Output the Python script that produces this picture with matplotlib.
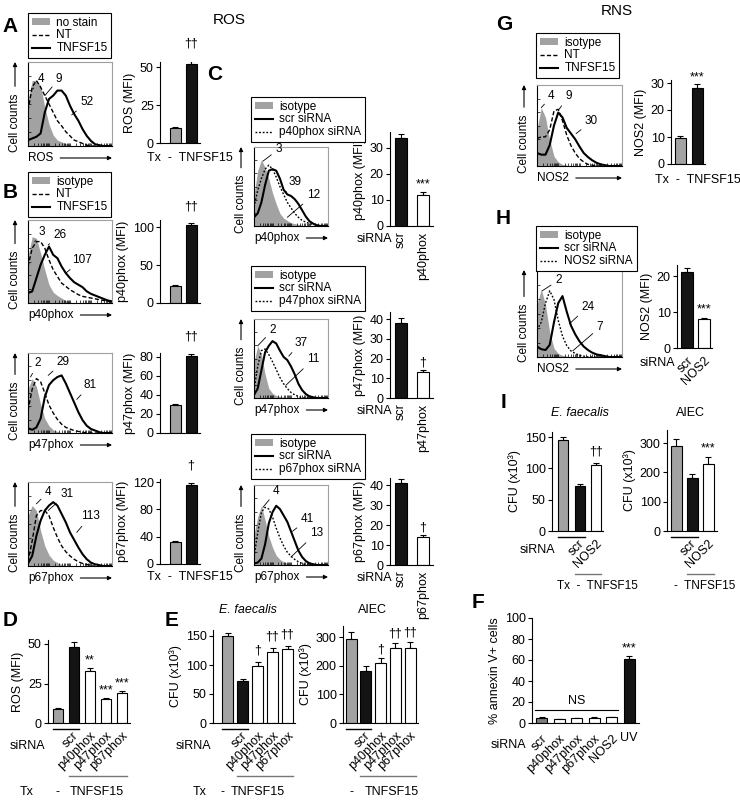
import numpy as np
import matplotlib
matplotlib.use("Agg")
import matplotlib.pyplot as plt
import matplotlib.transforms as mtrans
from matplotlib.patches import Patch
from matplotlib.lines import Line2D

plt.rcParams["font.family"] = ["Liberation Sans", "DejaVu Sans"]
plt.rcParams["font.size"] = 8.5
plt.rcParams["axes.linewidth"] = 0.8

# histogram bins along the (log) fluorescence axis, 0..1 across each plot
BINS = np.linspace(0, 1, 21)

# ---- flow histograms: counts as a fraction of the plot height ----
A_stain = [0.54, 0.78, 0.78, 0.72, 0.46, 0.26, 0.13, 0.07, 0.05, 0.03, 0.01, 0, 0, 0, 0, 0, 0, 0, 0, 0, 0]
A_nt = [0.42, 0.70, 0.78, 0.70, 0.60, 0.50, 0.40, 0.30, 0.24, 0.17, 0.12, 0.07, 0.05, 0.03, 0.01, 0, 0, 0, 0, 0, 0]
A_tx = [0.07, 0.09, 0.11, 0.15, 0.40, 0.56, 0.60, 0.66, 0.66, 0.60, 0.48, 0.38, 0.30, 0.20, 0.12, 0.06, 0.02, 0.01, 0, 0, 0]

B1_iso = [0.56, 0.80, 0.78, 0.60, 0.40, 0.22, 0.13, 0.09, 0.06, 0.03, 0.01, 0, 0, 0, 0, 0, 0, 0, 0, 0, 0]
B1_nt = [0.44, 0.66, 0.74, 0.74, 0.66, 0.52, 0.40, 0.32, 0.24, 0.20, 0.16, 0.13, 0.10, 0.08, 0.07, 0.06, 0.05, 0.04, 0.03, 0.02, 0.01]
B1_tx = [0.12, 0.14, 0.30, 0.46, 0.58, 0.68, 0.58, 0.54, 0.44, 0.36, 0.30, 0.25, 0.22, 0.19, 0.14, 0.11, 0.09, 0.07, 0.05, 0.03, 0.02]

B2_iso = [0.55, 0.68, 0.58, 0.36, 0.18, 0.09, 0.04, 0.02, 0, 0, 0, 0, 0, 0, 0, 0, 0, 0, 0, 0, 0]
B2_nt = [0.28, 0.55, 0.68, 0.64, 0.50, 0.35, 0.25, 0.17, 0.11, 0.07, 0.05, 0.03, 0.02, 0.01, 0, 0, 0, 0, 0, 0, 0]
B2_tx = [0.06, 0.04, 0.07, 0.18, 0.45, 0.60, 0.66, 0.70, 0.72, 0.62, 0.50, 0.38, 0.26, 0.16, 0.09, 0.05, 0.03, 0.01, 0, 0, 0]

B3_iso = [0.60, 0.72, 0.66, 0.42, 0.24, 0.13, 0.07, 0.04, 0.02, 0, 0, 0, 0, 0, 0, 0, 0, 0, 0, 0, 0]
B3_nt = [0.05, 0.30, 0.60, 0.66, 0.66, 0.60, 0.46, 0.34, 0.24, 0.17, 0.12, 0.08, 0.05, 0.03, 0.02, 0, 0, 0, 0, 0, 0]
B3_tx = [0.03, 0.12, 0.36, 0.54, 0.66, 0.72, 0.76, 0.72, 0.62, 0.52, 0.40, 0.31, 0.22, 0.14, 0.08, 0.04, 0.02, 0.01, 0, 0, 0]

C1_iso = [0.40, 0.70, 0.84, 0.74, 0.60, 0.42, 0.28, 0.16, 0.10, 0.07, 0.04, 0.03, 0.02, 0.01, 0, 0, 0, 0, 0, 0, 0]
C1_kd = [0.24, 0.45, 0.60, 0.72, 0.77, 0.72, 0.62, 0.50, 0.40, 0.30, 0.23, 0.16, 0.11, 0.07, 0.05, 0.03, 0.02, 0.01, 0, 0, 0]
C1_scr = [0.11, 0.16, 0.30, 0.52, 0.70, 0.72, 0.70, 0.60, 0.46, 0.40, 0.38, 0.34, 0.28, 0.20, 0.12, 0.06, 0.03, 0.01, 0, 0, 0]

C2_iso = [0.45, 0.66, 0.55, 0.30, 0.12, 0.06, 0.03, 0.02, 0.01, 0, 0, 0, 0, 0, 0, 0, 0, 0, 0, 0, 0]
C2_kd = [0.10, 0.40, 0.60, 0.62, 0.55, 0.46, 0.36, 0.26, 0.18, 0.12, 0.07, 0.04, 0.02, 0, 0, 0, 0, 0, 0, 0, 0]
C2_scr = [0.04, 0.12, 0.35, 0.58, 0.66, 0.72, 0.69, 0.60, 0.52, 0.48, 0.40, 0.30, 0.18, 0.10, 0.05, 0.02, 0.01, 0, 0, 0, 0]

C3_iso = [0.38, 0.60, 0.74, 0.56, 0.36, 0.22, 0.12, 0.07, 0.04, 0.02, 0.01, 0, 0, 0, 0, 0, 0, 0, 0, 0, 0]
C3_kd = [0.10, 0.40, 0.66, 0.72, 0.70, 0.60, 0.46, 0.34, 0.24, 0.16, 0.11, 0.07, 0.04, 0.02, 0, 0, 0, 0, 0, 0, 0]
C3_scr = [0.02, 0.03, 0.08, 0.26, 0.52, 0.66, 0.74, 0.70, 0.62, 0.54, 0.42, 0.30, 0.18, 0.10, 0.05, 0.02, 0.01, 0, 0, 0, 0]

G_iso = [0.45, 0.72, 0.60, 0.32, 0.12, 0.05, 0.02, 0.01, 0, 0, 0, 0, 0, 0, 0, 0, 0, 0, 0, 0, 0]
G_nt = [0.34, 0.36, 0.36, 0.45, 0.68, 0.70, 0.56, 0.38, 0.25, 0.16, 0.09, 0.05, 0.02, 0.01, 0, 0, 0, 0, 0, 0, 0]
G_tx = [0.16, 0.14, 0.14, 0.26, 0.50, 0.66, 0.60, 0.47, 0.40, 0.33, 0.24, 0.16, 0.11, 0.07, 0.04, 0.02, 0.01, 0, 0, 0, 0]

H_iso = [0.60, 0.78, 0.60, 0.28, 0.10, 0.04, 0.02, 0.01, 0, 0, 0, 0, 0, 0, 0, 0, 0, 0, 0, 0, 0]
H_kd = [0.31, 0.40, 0.62, 0.76, 0.66, 0.42, 0.24, 0.13, 0.07, 0.04, 0.02, 0.01, 0, 0, 0, 0, 0, 0, 0, 0, 0]
H_scr = [0.12, 0.09, 0.08, 0.14, 0.40, 0.62, 0.70, 0.52, 0.36, 0.26, 0.18, 0.12, 0.08, 0.05, 0.03, 0.02, 0.01, 0, 0, 0, 0]

# MFI numbers written on the histograms
A_mfi = ["4", "9", "52"]
B1_mfi = ["3", "26", "107"]
B2_mfi = ["2", "29", "81"]
B3_mfi = ["4", "31", "113"]
C1_mfi = ["3", "39", "12"]
C2_mfi = ["2", "37", "11"]
C3_mfi = ["4", "41", "13"]
G_mfi = ["4", "9", "30"]
H_mfi = ["2", "24", "7"]

# ---- bar data (mean, sem, significance) ----
A_val, A_err, A_sig = [10, 52], [0.8, 2], ["", "††"]
B1_val, B1_err, B1_sig = [22, 102], [1.5, 3], ["", "††"]
B2_val, B2_err, B2_sig = [29, 81], [1.5, 2.5], ["", "††"]
B3_val, B3_err, B3_sig = [32, 115], [2, 4], ["", "†"]
C1_val, C1_err, C1_sig = [34, 12], [1.5, 1], ["", "***"]
C2_val, C2_err, C2_sig = [38, 13], [2.5, 1], ["", "†"]
C3_val, C3_err, C3_sig = [41, 14], [2, 1.2], ["", "†"]
G_val, G_err, G_sig = [9.5, 28], [0.7, 1.5], ["", "***"]
H_val, H_err, H_sig = [21, 8], [1.2, 0.4], ["", "***"]
D_val, D_err, D_sig = [9, 48, 33, 15, 19], [0.5, 3, 2, 1, 1.2], ["", "", "**", "***", "***"]
E1_val, E1_err, E1_sig = [150, 72, 99, 123, 127], [6, 4, 6, 6, 5], ["", "", "†", "††", "††"]
E2_val, E2_err, E2_sig = [292, 183, 210, 260, 262], [25, 17, 17, 20, 22], ["", "", "†", "††", "††"]
F_val, F_err, F_sig = [5, 4, 4.5, 5, 5.5, 61], [0.3, 0.2, 0.3, 0.3, 0.3, 3], ["", "", "", "", "", "***"]
I1_val, I1_err, I1_sig = [145, 72, 105], [5, 3, 4], ["", "", "††"]
I2_val, I2_err, I2_sig = [290, 180, 230], [25, 15, 22], ["", "", "***"]

phox = ["p40phox", "p47phox", "p67phox"]
F_sirna = ["scr", "p40phox", "p47phox", "p67phox", "NOS2"]

W, H = 740, 802
GREY = "#a2a2a2"
BLACK = "#141414"
DASH = (0, (3.0, 1.6))
DOT = (0, (1.3, 1.3))
FS = 9

fig = plt.figure(figsize=(W / 100, H / 100), dpi=100)


def put(x, y, s, **kw):
    kw.setdefault("ha", "center")
    kw.setdefault("va", "center")
    kw.setdefault("fontsize", FS)
    fig.text(x / W, 1 - y / H, s, **kw)


def hist(box, grey, thin, thick, thin_ls, xlab, mfi, spots):
    x0, y0, x1, y1 = box
    w, h = x1 - x0, y1 - y0
    ax = fig.add_axes([x0 / W, 1 - y1 / H, w / W, h / H])
    ax.fill_between(BINS, grey, color=GREY, lw=0)
    ax.plot(BINS, thin, color="k", lw=1.0, ls=thin_ls)
    ax.plot(BINS, thick, color="k", lw=1.5)
    ax.set_xlim(0, 1)
    ax.set_ylim(0, 1)
    ax.set_xticks([(d + np.log10(k)) / 4 for d in range(4) for k in range(1, 10)] + [1])
    ax.set_yticks(np.linspace(0, 1, 7))
    ax.tick_params(direction="in", length=2, width=0.5, labelbottom=False, labelleft=False)
    for s in ("top", "right"):
        ax.spines[s].set_color("#a0a0a0")
    arrow = dict(arrowstyle="-|>", lw=0.8, color="k", mutation_scale=6, shrinkA=3, shrinkB=0)
    ax.annotate("Cell counts", xy=(-13 / w, 1.0), xytext=(-13 / w, 0.28), xycoords="axes fraction",
                rotation=90, ha="center", va="center", fontsize=8.5, arrowprops=arrow)
    ax.annotate(xlab, xy=(1.0, -12 / h), xytext=(0, -12 / h), xycoords="axes fraction",
                ha="left", va="center", fontsize=8.5, arrowprops=arrow)
    for s, (tx, ty, px, py) in zip(mfi, spots):
        ax.annotate(s, xy=(px, py), xytext=(tx, ty), xycoords="axes fraction", ha="center", va="center",
                    fontsize=8.5, arrowprops=dict(arrowstyle="-", lw=0.6, color="k", shrinkA=1, shrinkB=0))
    return ax


def legend(x, y, labels, styles):
    hs = [Patch(facecolor=GREY, edgecolor="none")]
    hs += [Line2D([], [], color="k", ls=ls, lw=lw) for ls, lw in styles]
    lg = fig.legend(hs, labels, loc="upper left", bbox_to_anchor=(x / W, 1 - y / H), fancybox=False,
                    edgecolor="k", framealpha=1, fontsize=8.5, handlelength=1.6, handleheight=0.55,
                    handletextpad=0.5, borderpad=0.3, labelspacing=0.08, borderaxespad=0)
    lg.get_frame().set_linewidth(0.8)


def bars(geo, vals, errs, colors, yticks, ylabel, marks, mdy=1):
    spine, c0, step, right, top, bot, tv, tp, wpx = geo
    scale = (bot - tp) / tv
    ax = fig.add_axes([spine / W, 1 - bot / H, (right - spine) / W, (bot - top) / H])
    x = np.arange(len(vals))
    bw = wpx / step
    ax.errorbar(x, vals, yerr=[np.zeros(len(vals)), errs], fmt="none", ecolor="k",
                elinewidth=0.8, capsize=2.5, capthick=0.8, zorder=1)
    ax.bar(x, vals, width=bw, color=colors, edgecolor="k", lw=0.8, zorder=2)
    ax.set_xlim((spine - c0) / step, (right - c0) / step)
    ax.set_ylim(0, (bot - top) / scale)
    ax.set_yticks(yticks)
    ax.set_xticks([])
    ax.spines[["top", "right"]].set_visible(False)
    ax.tick_params(axis="y", length=3, width=0.8, pad=1.5, labelsize=FS)
    ax.set_ylabel(ylabel, fontsize=FS, labelpad=3)
    for i, (v, e, m) in enumerate(zip(vals, errs, marks)):
        if m:
            ax.annotate(m, (i, v + e), xytext=(0, mdy), textcoords="offset points",
                        ha="center", va="bottom", fontsize=FS, annotation_clip=False)
    ax.geo = (top, bot, bw)
    return ax


def cats(ax, pos, labels, rot=45, pad=5):
    ax.set_xticks(pos, labels, rotation=rot, ha="right", va="top" if rot == 45 else "center",
                  rotation_mode="anchor", fontsize=FS)
    ax.tick_params(axis="x", length=0, pad=pad)


def bracket(ax, i, j, ypx, color):
    top, bot, bw = ax.geo
    tr = mtrans.blended_transform_factory(ax.transData, ax.transAxes)
    yf = (bot - ypx) / (bot - top)
    ax.plot([i - bw / 2, j + bw / 2], [yf, yf], transform=tr, color=color, lw=1.0, clip_on=False)


NT_STY = [(DASH, 1.0), ("-", 1.5)]
KD_STY = [("-", 1.5), (DOT, 1.0)]

# ---------------- titles and panel letters ----------------
put(229, 20, "ROS", fontsize=11)
put(617, 11, "RNS", fontsize=11)
for s, x, y in [("A", 10, 26), ("B", 10, 193), ("C", 215, 75), ("D", 10, 620), ("E", 172, 620),
                ("F", 478, 603), ("G", 504, 25), ("H", 503, 218), ("I", 504, 402)]:
    put(x, y, s, fontsize=15, fontweight="bold")

# ---------------- A / B ----------------
legend(28, 13, ["no stain", "NT", "TNFSF15"], NT_STY)
hist((28, 62, 112, 146), A_stain, A_nt, A_tx, DASH, "ROS", A_mfi,
     [(0.15, 0.80, 0.06, 0.68), (0.37, 0.80, 0.2, 0.6), (0.70, 0.52, 0.52, 0.37)])
bars((160, 175, 16, 200, 62, 143, 50, 67, 11), A_val, A_err, [GREY, BLACK], [0, 25, 50],
     "ROS (MFI)", A_sig, mdy=8)
put(147, 158, "Tx  -  TNFSF15", ha="left")

legend(28, 172, ["isotype", "NT", "TNFSF15"], NT_STY)
hist((28, 220, 112, 303), B1_iso, B1_nt, B1_tx, DASH, "p40phox", B1_mfi,
     [(0.17, 0.86, 0.08, 0.74), (0.38, 0.82, 0.24, 0.70), (0.64, 0.52, 0.45, 0.36)])
bars((160, 175, 16, 200, 220, 303, 100, 227, 11), B1_val, B1_err, [GREY, BLACK], [0, 50, 100],
     "p40phox (MFI)", B1_sig, mdy=8)

hist((28, 353, 112, 433), B2_iso, B2_nt, B2_tx, DASH, "p47phox", B2_mfi,
     [(0.12, 0.87, 0.03, 0.70), (0.42, 0.89, 0.24, 0.72), (0.74, 0.60, 0.58, 0.42)])
bars((160, 175, 16, 200, 353, 433, 80, 357, 11), B2_val, B2_err, [GREY, BLACK], [0, 20, 40, 60, 80],
     "p47phox (MFI)", B2_sig, mdy=8)

hist((28, 482, 112, 566), B3_iso, B3_nt, B3_tx, DASH, "p67phox", B3_mfi,
     [(0.24, 0.88, 0.10, 0.74), (0.46, 0.86, 0.24, 0.66), (0.74, 0.59, 0.58, 0.40)])
bars((160, 175, 16, 200, 479, 564, 120, 482, 11), B3_val, B3_err, [GREY, BLACK], [0, 40, 80, 120],
     "p67phox (MFI)", B3_sig, mdy=8)
put(147, 577, "Tx  -  TNFSF15", ha="left")

# ---------------- C ----------------
c_rows = [
    (97, (254, 147, 328, 226), C1_iso, C1_kd, C1_scr, C1_mfi,
     [(0.33, 0.97, 0.12, 0.82), (0.56, 0.56, 0.42, 0.42), (0.80, 0.39, 0.45, 0.11)],
     (132, 226, 30, 148), C1_val, C1_err, C1_sig, [0, 10, 20, 30], 239, 0),
    (266, (254, 319, 328, 398), C2_iso, C2_kd, C2_scr, C2_mfi,
     [(0.25, 0.86, 0.05, 0.66), (0.63, 0.70, 0.47, 0.53), (0.80, 0.49, 0.43, 0.16)],
     (312, 398, 40, 319), C2_val, C2_err, C2_sig, [0, 10, 20, 30, 40], 411, 1),
    (434, (254, 485, 328, 565), C3_iso, C3_kd, C3_scr, C3_mfi,
     [(0.30, 0.92, 0.12, 0.72), (0.72, 0.57, 0.52, 0.42), (0.84, 0.40, 0.50, 0.10)],
     (478, 565, 40, 485), C3_val, C3_err, C3_sig, [0, 10, 20, 30, 40], 578, 2),
]
for ly, box, iso, kd, scr, mfi, spots, yg, val, err, sig, yt, rowy, k in c_rows:
    legend(251, ly, ["isotype", "scr siRNA", phox[k] + " siRNA"], KD_STY)
    hist(box, iso, kd, scr, DOT, phox[k], mfi, spots)
    top, bot, tv, tp = yg
    ax = bars((390, 401, 22, 433, top, bot, tv, tp, 12), val, err, [BLACK, "white"], yt,
              phox[k] + " (MFI)", sig)
    cats(ax, [0, 1], ["scr", phox[k]], rot=90, pad=4)
    put(374, rowy, "siRNA")

# ---------------- D ----------------
ax = bars((48, 57.5, 16.1, 130, 640, 723, 50, 644, 10), D_val, D_err,
          [GREY, BLACK, "white", "white", "white"], [0, 25, 50], "ROS (MFI)", D_sig)
cats(ax, [0.9, 2, 3, 4], ["scr"] + phox)
bracket(ax, 0, 1, 729, "k")
bracket(ax, 1, 4, 776, "#777777")
put(27, 746, "siRNA")
put(27, 792, "Tx")
put(58, 792, "-")
put(97, 792, "TNFSF15")

# ---------------- E ----------------
put(248, 610, "E. faecalis", style="italic")
put(372, 610, "AIEC")
ax = bars((213, 227.5, 15, 295, 630, 723, 150, 636, 10.5), E1_val, E1_err,
          [GREY, BLACK, "white", "white", "white"], [0, 50, 100, 150], "CFU (x10³)", E1_sig, mdy=4)
cats(ax, [0.9, 2, 3, 4], ["scr"] + phox)
bracket(ax, 0, 1, 729, "k")
bracket(ax, 1, 4, 776, "#777777")
put(193, 746, "siRNA")
put(200, 792, "Tx")
put(223, 792, "-")
put(258, 792, "TNFSF15")

ax = bars((343, 351, 14.8, 418, 626, 723, 300, 637, 11), E2_val, E2_err,
          [GREY, BLACK, "white", "white", "white"], [0, 100, 200, 300], "CFU (x10³)", E2_sig, mdy=2)
cats(ax, [0.9, 2, 3, 4], ["scr"] + phox)
bracket(ax, 0, 1, 729, "k")
bracket(ax, 1, 4, 776, "#777777")
put(352, 792, "-")
put(392, 792, "TNFSF15")

# ---------------- F ----------------
ax = bars((532, 541.5, 17.5, 639, 618, 723, 80, 639, 11), F_val, F_err,
          ["#7c7c7c", "white", "white", "white", "white", BLACK], [0, 20, 40, 60, 80, 100],
          "% annexin V+ cells", F_sig)
cats(ax, [0, 1, 2, 3, 4], F_sirna, pad=7)
top, bot, bw = ax.geo
tr = mtrans.blended_transform_factory(ax.transData, ax.transAxes)
ns_y = (bot - 710) / (bot - top)
ax.plot([-0.35, 4.35], [ns_y, ns_y], transform=tr, color="k", lw=0.8)
ax.text(2, ns_y + 0.03, "NS", transform=tr, ha="center", va="bottom", fontsize=FS)
ax.text(5, (bot - 738) / (bot - top), "UV", transform=tr, ha="center", va="center", fontsize=FS)
put(508, 745, "siRNA")

# ---------------- G ----------------
legend(536, 33, ["isotype", "NT", "TNFSF15"], NT_STY)
hist((537, 85, 622, 166), G_iso, G_nt, G_tx, DASH, "NOS2", G_mfi,
     [(0.17, 0.86, 0.05, 0.72), (0.37, 0.86, 0.26, 0.70), (0.64, 0.55, 0.46, 0.40)])
bars((671, 680, 17, 705, 80, 164, 30, 83, 11), G_val, G_err, [GREY, BLACK], [0, 10, 20, 30],
     "NOS2 (MFI)", G_sig)
put(655, 180, "Tx  -  TNFSF15", ha="left")

# ---------------- H ----------------
legend(536, 226, ["isotype", "scr siRNA", "NOS2 siRNA"], KD_STY)
hist((537, 270, 622, 357), H_iso, H_kd, H_scr, DOT, "NOS2", H_mfi,
     [(0.25, 0.88, 0.06, 0.76), (0.60, 0.58, 0.38, 0.38), (0.74, 0.34, 0.42, 0.07)])
ax = bars((677, 687, 17, 712, 265, 348, 20, 276, 12), H_val, H_err, [BLACK, "white"], [0, 10, 20],
          "NOS2 (MFI)", H_sig, mdy=2)
cats(ax, [0, 1], ["scr", "NOS2"])
put(657, 363, "siRNA")

# ---------------- I ----------------
put(580, 413, "E. faecalis", style="italic")
put(690, 413, "AIEC")
ax = bars((552, 563, 16.5, 603, 432, 531, 150, 437, 10), I1_val, I1_err, [GREY, BLACK, "white"],
          [0, 50, 100, 150], "CFU (x10³)", I1_sig, mdy=4)
cats(ax, [0.9, 2], ["scr", "NOS2"])
bracket(ax, 0, 1, 537, "k")
bracket(ax, 1, 2, 574, "#777777")
put(537, 550, "siRNA")
put(557, 586, "Tx  -  TNFSF15", ha="left", fontsize=8.5)

ax = bars((667, 676, 16, 717, 430, 531, 300, 443, 11), I2_val, I2_err, [GREY, BLACK, "white"],
          [0, 100, 200, 300], "CFU (x10³)", I2_sig, mdy=2)
cats(ax, [0.9, 2], ["scr", "NOS2"])
bracket(ax, 0, 1, 537, "k")
bracket(ax, 1, 2, 574, "#777777")
put(674, 586, "-  TNFSF15", ha="left", fontsize=8.5)

fig.savefig("out.png", dpi=100)
